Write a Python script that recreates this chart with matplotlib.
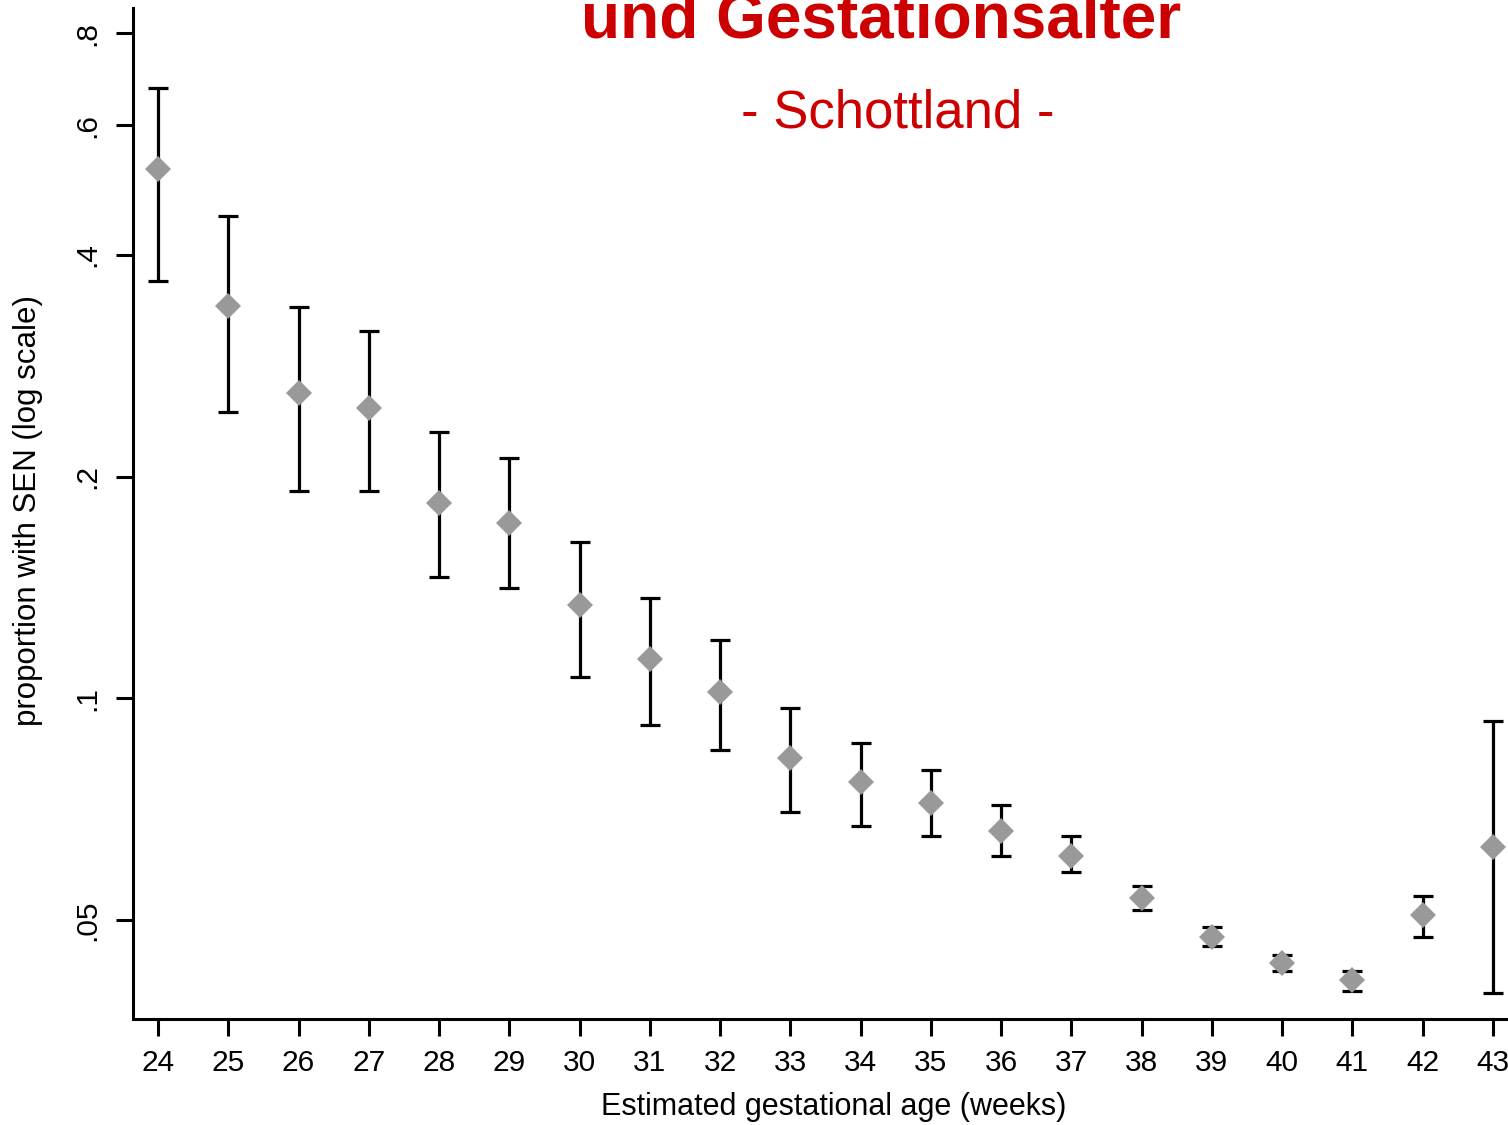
import matplotlib.pyplot as plt
from matplotlib.ticker import FixedLocator, FixedFormatter, NullLocator

plt.rcParams['font.family'] = ['Liberation Sans', 'DejaVu Sans']

# Proportion with SEN by gestational age, with 95% CI
weeks = [24, 25, 26, 27, 28, 29, 30, 31, 32, 33,
         34, 35, 36, 37, 38, 39, 40, 41, 42, 43]
prop = [0.524, 0.341, 0.260, 0.248, 0.184, 0.173, 0.134, 0.113, 0.102, 0.083,
        0.077, 0.072, 0.066, 0.061, 0.0536, 0.0474, 0.0437, 0.0414, 0.0508, 0.0627]
ci_low = [0.369, 0.245, 0.191, 0.191, 0.146, 0.141, 0.107, 0.092, 0.085, 0.070,
          0.067, 0.065, 0.061, 0.058, 0.0516, 0.0461, 0.0426, 0.0400, 0.0474, 0.0398]
ci_high = [0.675, 0.452, 0.340, 0.315, 0.230, 0.212, 0.163, 0.137, 0.120, 0.097,
           0.087, 0.080, 0.0715, 0.0649, 0.0555, 0.0489, 0.0448, 0.0426, 0.0539, 0.093]

ytick_vals = [0.05, 0.1, 0.2, 0.4, 0.6, 0.8]
ytick_labels = ['.05', '.1', '.2', '.4', '.6', '.8']

title = 'und Gestationsalter'
subtitle = '- Schottland -'
red = '#cc0000'

W, H = 1508, 1125
fig = plt.figure(figsize=(W / 100, H / 100), dpi=100)
ax = fig.add_axes([133 / W, 1 - 1019 / H, 1 - 133 / W, (1019 - 8) / H])

err = [[p - lo for p, lo in zip(prop, ci_low)],
       [hi - p for p, hi in zip(prop, ci_high)]]
ax.errorbar(weeks, prop, yerr=err, fmt='none', ecolor='black',
            elinewidth=2.3, capsize=7, capthick=2.3, zorder=2)
ax.plot(weeks, prop, linestyle='none', marker='D', markersize=13.5,
        color='#999999', markeredgewidth=0, zorder=3)

ax.set_yscale('log')
ax.set_ylim(0.03667, 0.866)
ax.set_xlim(23.644, 43.217)

ax.yaxis.set_major_locator(FixedLocator(ytick_vals))
ax.yaxis.set_major_formatter(FixedFormatter(ytick_labels))
ax.yaxis.set_minor_locator(NullLocator())
ax.set_xticks(weeks)

for side in ['top', 'right']:
    ax.spines[side].set_visible(False)
for side in ['left', 'bottom']:
    ax.spines[side].set_linewidth(2.2)

ax.tick_params(axis='both', direction='out', length=12.5, width=2.2,
               labelsize=21.5, colors='black')
ax.tick_params(axis='x', pad=9)
ax.tick_params(axis='y', labelrotation=90, pad=10)
for lbl in ax.get_yticklabels():
    lbl.set_va('center')

ax.set_xlabel('Estimated gestational age (weeks)', fontsize=22)
ax.xaxis.set_label_coords(0.5098, -0.0722)
ax.xaxis.label.set_va('top')
ax.set_ylabel('proportion with SEN (log scale)', fontsize=22.5)
ax.yaxis.set_label_coords(-0.0655, 0.5025)

fig.text(881 / W, 1 - 37 / H, title, ha='center', va='baseline',
         fontsize=46, fontweight='bold', color=red)
fig.text(898 / W, 1 - 127 / H, subtitle, ha='center', va='baseline',
         fontsize=38, color=red)

fig.savefig('out.png', dpi=100, facecolor='white')
